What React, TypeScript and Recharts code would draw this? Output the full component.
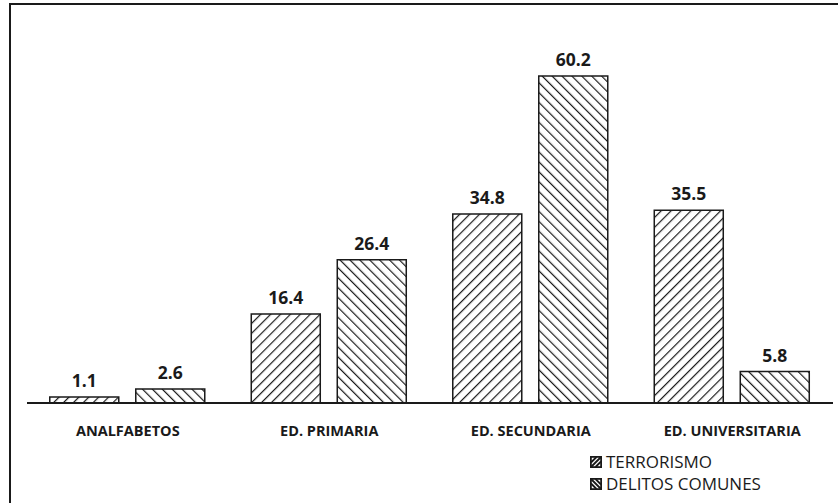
import React from "react";
import { BarChart, Bar, XAxis, YAxis, LabelList } from "recharts";

const categories = ["ANALFABETOS", "ED. PRIMARIA", "ED. SECUNDARIA", "ED. UNIVERSITARIA"];
const terrorismo = [1.1, 16.4, 34.8, 35.5];
const delitos = [2.6, 26.4, 60.2, 5.8];
const seriesNames = ["TERRORISMO", "DELITOS COMUNES"];

const data = categories.map((c, i) => ({ cat: c, terrorismo: terrorismo[i], delitos: delitos[i] }));

const FONT = "'Open Sans', 'Liberation Sans', sans-serif";

function LegendIcon({ dir }: { dir: "fwd" | "back" }) {
  return (
    <svg width={12} height={12} style={{ marginRight: 4 }}>
      <rect x={0.9} y={0.9} width={10.2} height={10.2} fill="#fff" stroke="#1a1a1a" strokeWidth={1.8} />
      {dir === "fwd" ? (
        <path d="M1 11 L11 1 M1 6.5 L6.5 1 M5.5 11 L11 5.5" stroke="#1a1a1a" strokeWidth={1.8} />
      ) : (
        <path d="M1 1 L11 11 M1 5.5 L6.5 11 M5.5 1 L11 6.5" stroke="#1a1a1a" strokeWidth={1.8} />
      )}
    </svg>
  );
}

export default function App() {
  return (
    <div style={{ position: "absolute", left: 0, top: 0, width: 838, height: 503, background: "#fff", overflow: "hidden" }}>
      <div
        style={{
          position: "absolute",
          left: 9,
          top: 3,
          width: 840,
          height: 520,
          border: "2px solid #1a1a1a",
          boxSizing: "border-box",
        }}
      />
      <div style={{ position: "absolute", left: 0, top: 0 }}>
        <BarChart
          width={838}
          height={503}
          data={data}
          margin={{ top: 50, right: 5, bottom: 0, left: 27 }}
          barGap={17}
          barCategoryGap="11.3%"
        >
          <defs>
            <pattern id="hatchFwd" patternUnits="userSpaceOnUse" width={7} height={7} patternTransform="rotate(45)">
              <rect width={7} height={7} fill="#fff" />
              <line x1={0} y1={0} x2={0} y2={7} stroke="#1a1a1a" strokeWidth={2.4} />
            </pattern>
            <pattern id="hatchBack" patternUnits="userSpaceOnUse" width={7} height={7} patternTransform="rotate(-45)">
              <rect width={7} height={7} fill="#fff" />
              <line x1={0} y1={0} x2={0} y2={7} stroke="#1a1a1a" strokeWidth={2.4} />
            </pattern>
          </defs>
          <XAxis
            dataKey="cat"
            height={100}
            tickLine={false}
            axisLine={{ stroke: "#1a1a1a", strokeWidth: 2 }}
            tick={{ fill: "#1a1a1a", fontSize: 14.5, fontWeight: 700, fontFamily: FONT, dy: 15 }}
            interval={0}
          />
          <YAxis hide domain={[0, 65]} />
          <Bar dataKey="terrorismo" fill="url(#hatchFwd)" stroke="#1a1a1a" strokeWidth={1.5} isAnimationActive={false}>
            <LabelList
              dataKey="terrorismo"
              position="top"
              offset={10}
              style={{ fill: "#1a1a1a", fontSize: 17.5, fontWeight: 700, fontFamily: FONT }}
            />
          </Bar>
          <Bar dataKey="delitos" fill="url(#hatchBack)" stroke="#1a1a1a" strokeWidth={1.5} isAnimationActive={false}>
            <LabelList
              dataKey="delitos"
              position="top"
              offset={10}
              style={{ fill: "#1a1a1a", fontSize: 17.5, fontWeight: 700, fontFamily: FONT }}
            />
          </Bar>
        </BarChart>
      </div>
      <div
        style={{
          position: "absolute",
          left: 590,
          top: 451,
          fontFamily: FONT,
          fontSize: 17,
          color: "#1a1a1a",
          lineHeight: "22px",
        }}
      >
        <div style={{ display: "flex", alignItems: "center", height: 22 }}>
          <LegendIcon dir="fwd" />
          <span>{seriesNames[0]}</span>
        </div>
        <div style={{ display: "flex", alignItems: "center", height: 22 }}>
          <LegendIcon dir="back" />
          <span>{seriesNames[1]}</span>
        </div>
      </div>
    </div>
  );
}
